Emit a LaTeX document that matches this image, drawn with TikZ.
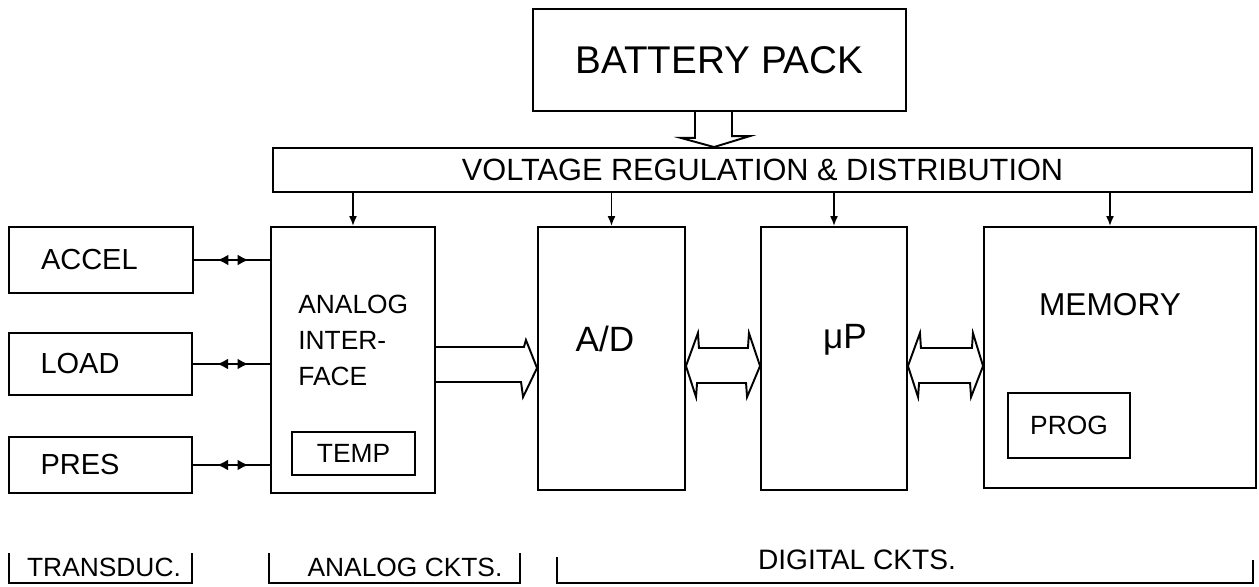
\documentclass[tikz,border=0pt]{standalone}
\usepackage{fontspec}
\setmainfont{Liberation Sans}
\usetikzlibrary{arrows.meta}
\usetikzlibrary{calc}
\usetikzlibrary{decorations.markings}

\begin{document}
\begin{tikzpicture}[x=0.02cm,y=-0.02cm]

        \tikzset{block/.style = {shape=rectangle,draw,line width=1.1pt,inner sep=0pt}}
        \tikzset{sensor/.style = {block,minimum width=3.67cm,text width=2.4cm,align=left,font=\fontsize{16.5}{19}\selectfont}}
        \tikzset{bus/.style = {line width=1.1pt,line join=miter}}
        \tikzset{feed/.style = {-{Latex[length=2mm,width=1.6mm]},line width=1pt}}
        \tikzset{sig/.style = {line width=1.6pt,postaction={decorate},
            decoration={markings,
              mark=at position 0.31 with {\arrowreversed{Latex[length=2.2mm,width=2.2mm]}},
              mark=at position 0.72 with {\arrow{Latex[length=2.2mm,width=2.2mm]}}}}}
        \tikzset{lbl/.style = {inner sep=0pt}}

        \useasboundingbox (0,0) rectangle (1259,586);

        \node[block,minimum width=7.46cm,minimum height=2.04cm,font=\fontsize{22}{26}\selectfont] (batt) at (719.5,60) {BATTERY PACK};
        \node[block,minimum width=19.58cm,minimum height=0.88cm,font=\fontsize{17.5}{20}\selectfont] (volt) at (762.5,170) {VOLTAGE REGULATION \& DISTRIBUTION};

        \node[sensor,minimum height=1.32cm] (accel) at (101,260) {ACCEL};
        \node[sensor,minimum height=1.24cm] (load) at (100.5,364) {LOAD};
        \node[sensor,minimum height=1.12cm] (pres) at (100.5,465) {PRES};

        \node[block,minimum width=3.28cm,minimum height=5.32cm] (aif) at (353,360) {};
        \node[lbl,anchor=north west,align=left,font=\fontsize{15}{20.4}\selectfont] (aiftxt) at (298,295) {ANALOG\\INTER-\\FACE};
        \node[block,minimum width=2.46cm,minimum height=0.86cm,font=\fontsize{15}{18}\selectfont] (temp) at (353.5,453.5) {TEMP};

        \node[block,minimum width=2.94cm,minimum height=5.26cm] (ad) at (611.5,358.5) {};
        \node[lbl,font=\fontsize{20}{24}\selectfont] (adtxt) at (605,339) {A/D};
        \node[block,minimum width=2.92cm,minimum height=5.26cm] (up) at (834,358.5) {};
        \node[lbl,font=\fontsize{20}{24}\selectfont] (uptxt) at (845,340) {μP};
        \node[block,minimum width=5.44cm,minimum height=5.22cm] (mem) at (1120,357.5) {};
        \node[lbl,font=\fontsize{18}{22}\selectfont] (memtxt) at (1110,305) {MEMORY};
        \node[block,minimum width=2.44cm,minimum height=1.3cm,font=\fontsize{15}{18}\selectfont] (prog) at (1069,425.5) {PROG};

        \node[lbl,font=\fontsize{15}{18}\selectfont] (trans) at (104,567) {TRANSDUC.};
        \node[lbl,font=\fontsize{15}{18}\selectfont] (anck) at (405,567) {ANALOG CKTS.};
        \node[lbl,font=\fontsize{16}{19}\selectfont] (dgck) at (857,560) {DIGITAL CKTS.};

        % power
        \draw[bus] (695,0 |- batt.south) -- ++(0,26) -- ++(-14,0) -- (714,0 |- volt.north) -- ++(36,-11) -- ++(-18,0) -- (732,0 |- batt.south);
        \draw[feed] (aif.north |- volt.south) -- (aif.north);
        \draw[feed] (ad.north |- volt.south) -- (ad.north);
        \draw[feed] (up.north |- volt.south) -- (up.north);
        \draw[feed] (1110,0 |- volt.south) -- (1110,0 |- mem.north);

        % sensors
        \draw[sig] (accel.east) -- (accel.east -| aif.west);
        \draw[sig] (load.east) -- (load.east -| aif.west);
        \draw[sig] (pres.east) -- (pres.east -| aif.west);

        % data paths
        \draw[bus] (aif.east |- 0,347) -- ++(88,0) -- ++(2,-7) -- (ad.west |- 0,368) -- ++(-14,29) -- ++(-2,-15) -- (aif.east |- 0,382);
        \draw[bus] (ad.east |- 0,366) -- ++(12,-33) -- ++(1,15) -- ++(49,0) -- ++(1,-15) -- (up.west |- 0,366) -- ++(-13,31) -- ++(-1,-14) -- ++(-49,0) -- ++(-1,14) -- cycle;
        \draw[bus] (up.east |- 0,366) -- ++(12,-33) -- ++(1,15) -- ++(51,0) -- ++(1,-15) -- (mem.west |- 0,366) -- ++(-12,31) -- ++(-1,-14) -- ++(-51,0) -- ++(-1,14) -- cycle;

        % groups
        \draw[bus] (9,553) |- (192,583) -- (192,553);
        \draw[bus] (269,553) |- (520,583) -- (520,553);
        \draw[bus] (557,557) |- (1253,583) -- (1253,560);

\end{tikzpicture}
\end{document}
